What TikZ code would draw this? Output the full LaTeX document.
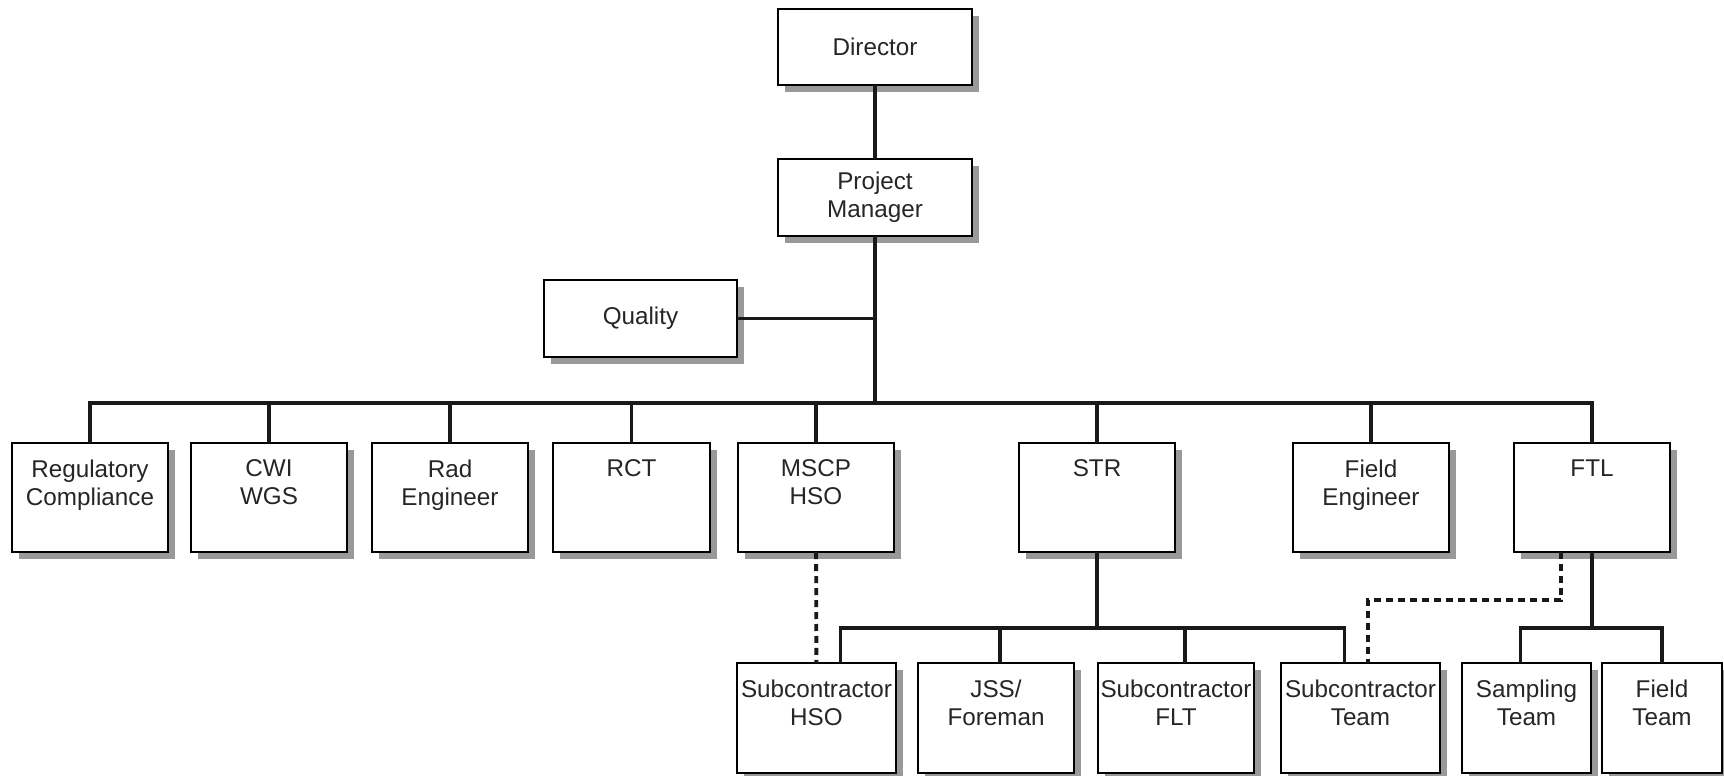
\documentclass[tikz,border=0pt]{standalone}
\usepackage{fontspec}
\setmainfont{Liberation Sans}
\usepackage{tikz}
\usetikzlibrary{fit}
\usetikzlibrary{calc}
\usetikzlibrary{positioning}
\usetikzlibrary{shadows}

\begin{document}
\begin{tikzpicture}[
  x=0.02cm, y=-0.02cm,
  orgbox/.style={draw, rectangle, line width=1.2pt, fill=white,
    drop shadow={shadow xshift=0.14cm, shadow yshift=-0.14cm, fill=black!40, opacity=1}},
  toptext/.style={anchor=north, yshift=-0.334cm},
  every label/.style={align=center, text=black!85, font=\fontsize{13.8}{15.9}\selectfont},
  link/.style={line width=2.2pt, black!90},
  dotline/.style={line width=2.2pt, black!90, dash pattern=on 0.14cm off 0.1cm},
]
\useasboundingbox (0,0) rectangle (1724,775);

\begin{scope}[inner sep=0pt, outer sep=0pt]
  % top of the chart
  \node (dir) [orgbox, fit={(778,9) (972,85)}, label=center:{Director}] {};
  \node (pm) [orgbox, fit={(778,159) (972,236)}, label={center:{Project\\Manager}}] {};
  \node (qual) [orgbox, fit={(544,280) (737,357)}, label=center:{Quality}] {};

  % first row
  \node (reg) [orgbox, fit={(12,443) (168,552)}, label={[toptext]north:{Regulatory\\Compliance}}] {};
  \node (cwi) [orgbox, fit={(191,443) (347,552)}, label={[toptext]north:{CWI\\WGS}}] {};
  \node (rad) [orgbox, fit={(372,443) (528,552)}, label={[toptext]north:{Rad\\Engineer}}] {};
  \node (rct) [orgbox, fit={(553,443) (710,552)}, label={[toptext]north:{RCT}}] {};
  \node (mscp) [orgbox, fit={(738,443) (894,552)}, label={[toptext]north:{MSCP\\HSO}}] {};
  \node (str) [orgbox, fit={(1019,443) (1175,552)}, label={[toptext]north:{STR}}] {};
  \node (fe) [orgbox, fit={(1293,443) (1449,552)}, label={[toptext]north:{Field\\Engineer}}] {};
  \node (ftl) [orgbox, fit={(1514,443) (1670,552)}, label={[toptext]north:{FTL}}] {};

  % second row
  \node (shso) [orgbox, fit={(737,663) (896,773)}, label={[toptext]north:{Subcontractor\\HSO}}] {};
  \node (jss) [orgbox, fit={(918,663) (1074,773)}, label={[toptext]north:{JSS/\\Foreman}}] {};
  \node (sflt) [orgbox, fit={(1098,663) (1254,773)}, label={[toptext]north:{Subcontractor\\FLT}}] {};
  \node (steam) [orgbox, fit={(1281,663) (1440,773)}, label={[toptext]north:{Subcontractor\\Team}}] {};
  \node (samp) [orgbox, fit={(1462,663) (1591,773)}, label={[toptext]north:{Sampling\\Team}}] {};
  \node (fteam) [orgbox, fit={(1602,663) (1722,773)}, label={[toptext]north:{Field\\Team}}] {};
\end{scope}

\coordinate (bus) at (875,403);
\coordinate (strbus) at (1097,628);
\coordinate (ftlbus) at (1592,628);
\coordinate (bend) at (1368,600);

\draw[link] (dir) -- (pm);
\draw[link] (pm.south) -- (bus);
\draw[link] (qual.east) -- (qual.east -| pm.south);
\draw[link] (reg.north) |- (bus) -| (ftl.north);
\foreach \n in {cwi,rad,rct,mscp,str,fe}
  \draw[link] (\n.north) -- (\n.north |- bus);

\draw[link] (str.south) -- (strbus);
\draw[link] ([xshift=0.48cm]shso.north) |- (strbus) -| ([xshift=-0.32cm]steam.north);
\draw[link] ([xshift=0.08cm]jss.north) -- ([xshift=0.08cm]jss.north |- strbus);
\draw[link] ([xshift=0.18cm]sflt.north) -- ([xshift=0.18cm]sflt.north |- strbus);

\draw[link] (ftl.south) -- (ftlbus);
\draw[link] ([xshift=-0.12cm]samp.north) |- (ftlbus) -| (fteam.north);

\draw[dotline] (mscp) -- (shso);
\draw[dotline] ([xshift=-0.62cm]ftl.south) |- (bend) -- (bend |- steam.north);
\end{tikzpicture}
\end{document}
